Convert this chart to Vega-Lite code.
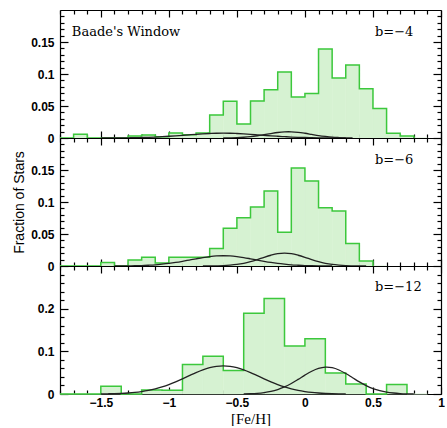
{
  "$schema": "https://vega.github.io/schema/vega-lite/v6.json",
  "background": "white",
  "padding": {"left": 12, "top": 9, "right": 0, "bottom": 0},
  "spacing": 0,
  "bounds": "flush",
  "config": {
    "view": {"stroke": null},
    "axis": {
      "grid": false, "domainColor": "black", "tickColor": "black", "labelColor": "black", "titleColor": "black",
      "domainWidth": 1.2, "tickWidth": 1.2, "zindex": 1,
      "labelFont": "Liberation Sans", "labelFontSize": 12, "labelFontWeight": "bold",
      "labelFlush": false, "labelOverlap": false, "labelBound": false
    },
    "text": {"font": "DejaVu Serif", "fontSize": 13}
  },
  "datasets": {
    "hist": [
      {"p":1,"lo":-1.8,"hi":-1.7,"f":0},{"p":1,"lo":-1.7,"hi":-1.6,"f":0.006},{"p":1,"lo":-1.6,"hi":-1.5,"f":0},{"p":1,"lo":-1.5,"hi":-1.4,"f":0},{"p":1,"lo":-1.4,"hi":-1.3,"f":0},
      {"p":1,"lo":-1.3,"hi":-1.2,"f":0.003},{"p":1,"lo":-1.2,"hi":-1.1,"f":0.0045},{"p":1,"lo":-1.1,"hi":-1.0,"f":0.002},{"p":1,"lo":-1.0,"hi":-0.9,"f":0.008},{"p":1,"lo":-0.9,"hi":-0.8,"f":0.005},
      {"p":1,"lo":-0.8,"hi":-0.7,"f":0.008},{"p":1,"lo":-0.7,"hi":-0.6,"f":0.036},{"p":1,"lo":-0.6,"hi":-0.5,"f":0.0575},{"p":1,"lo":-0.5,"hi":-0.4,"f":0.0218},{"p":1,"lo":-0.4,"hi":-0.3,"f":0.058},
      {"p":1,"lo":-0.3,"hi":-0.2,"f":0.0755},{"p":1,"lo":-0.2,"hi":-0.1,"f":0.103},{"p":1,"lo":-0.1,"hi":0.0,"f":0.064},{"p":1,"lo":0.0,"hi":0.1,"f":0.0697},{"p":1,"lo":0.1,"hi":0.2,"f":0.139},
      {"p":1,"lo":0.2,"hi":0.3,"f":0.0936},{"p":1,"lo":0.3,"hi":0.4,"f":0.114},{"p":1,"lo":0.4,"hi":0.5,"f":0.077},{"p":1,"lo":0.5,"hi":0.6,"f":0.046},{"p":1,"lo":0.6,"hi":0.7,"f":0.0074},
      {"p":1,"lo":0.7,"hi":0.8,"f":0.003},{"p":1,"lo":0.8,"hi":0.9,"f":0},
      {"p":2,"lo":-1.8,"hi":-1.7,"f":0},{"p":2,"lo":-1.7,"hi":-1.6,"f":0},{"p":2,"lo":-1.6,"hi":-1.5,"f":0},{"p":2,"lo":-1.5,"hi":-1.4,"f":0.0053},{"p":2,"lo":-1.4,"hi":-1.3,"f":0},
      {"p":2,"lo":-1.3,"hi":-1.2,"f":0.0093},{"p":2,"lo":-1.2,"hi":-1.1,"f":0.0137},{"p":2,"lo":-1.1,"hi":-1.0,"f":0.0048},{"p":2,"lo":-1.0,"hi":-0.9,"f":0.0137},{"p":2,"lo":-0.9,"hi":-0.8,"f":0.0137},
      {"p":2,"lo":-0.8,"hi":-0.7,"f":0.0137},{"p":2,"lo":-0.7,"hi":-0.6,"f":0.0272},{"p":2,"lo":-0.6,"hi":-0.5,"f":0.059},{"p":2,"lo":-0.5,"hi":-0.4,"f":0.0755},{"p":2,"lo":-0.4,"hi":-0.3,"f":0.092},
      {"p":2,"lo":-0.3,"hi":-0.2,"f":0.117},{"p":2,"lo":-0.2,"hi":-0.1,"f":0.0527},{"p":2,"lo":-0.1,"hi":0.0,"f":0.153},{"p":2,"lo":0.0,"hi":0.1,"f":0.133},{"p":2,"lo":0.1,"hi":0.2,"f":0.091},
      {"p":2,"lo":0.2,"hi":0.3,"f":0.0858},{"p":2,"lo":0.3,"hi":0.4,"f":0.035},{"p":2,"lo":0.4,"hi":0.5,"f":0.0078},{"p":2,"lo":0.5,"hi":0.6,"f":0},
      {"p":3,"lo":-1.8,"hi":-1.65,"f":0},{"p":3,"lo":-1.65,"hi":-1.5,"f":0},{"p":3,"lo":-1.5,"hi":-1.35,"f":0.018},{"p":3,"lo":-1.35,"hi":-1.2,"f":0},{"p":3,"lo":-1.2,"hi":-1.05,"f":0.0092},
      {"p":3,"lo":-1.05,"hi":-0.9,"f":0.009},{"p":3,"lo":-0.9,"hi":-0.75,"f":0.069},{"p":3,"lo":-0.75,"hi":-0.6,"f":0.0885},{"p":3,"lo":-0.6,"hi":-0.45,"f":0.055},{"p":3,"lo":-0.45,"hi":-0.3,"f":0.189},
      {"p":3,"lo":-0.3,"hi":-0.15,"f":0.224},{"p":3,"lo":-0.15,"hi":0.0,"f":0.1125},{"p":3,"lo":0.0,"hi":0.15,"f":0.1295},{"p":3,"lo":0.15,"hi":0.3,"f":0.0495},{"p":3,"lo":0.3,"hi":0.45,"f":0.0232},
      {"p":3,"lo":0.45,"hi":0.6,"f":0},{"p":3,"lo":0.6,"hi":0.75,"f":0.022},{"p":3,"lo":0.75,"hi":0.9,"f":0}
    ],
    "fits": [
      {"p":1,"c":1,"x":-1.5,"y":0.00004},{"p":1,"c":1,"x":-1.45,"y":0.0001},{"p":1,"c":1,"x":-1.4,"y":0.0001},{"p":1,"c":1,"x":-1.35,"y":0.0002},{"p":1,"c":1,"x":-1.3,"y":0.0003},{"p":1,"c":1,"x":-1.25,"y":0.0005},{"p":1,"c":1,"x":-1.2,"y":0.0008},{"p":1,"c":1,"x":-1.15,"y":0.0011},{"p":1,"c":1,"x":-1.1,"y":0.0015},{"p":1,"c":1,"x":-1.05,"y":0.0021},{"p":1,"c":1,"x":-1.0,"y":0.0027},{"p":1,"c":1,"x":-0.95,"y":0.0034},{"p":1,"c":1,"x":-0.9,"y":0.0042},{"p":1,"c":1,"x":-0.85,"y":0.005},{"p":1,"c":1,"x":-0.8,"y":0.0058},{"p":1,"c":1,"x":-0.75,"y":0.0065},{"p":1,"c":1,"x":-0.7,"y":0.007},{"p":1,"c":1,"x":-0.65,"y":0.0074},{"p":1,"c":1,"x":-0.6,"y":0.0075},{"p":1,"c":1,"x":-0.55,"y":0.0074},{"p":1,"c":1,"x":-0.5,"y":0.007},{"p":1,"c":1,"x":-0.45,"y":0.0065},{"p":1,"c":1,"x":-0.4,"y":0.0058},{"p":1,"c":1,"x":-0.35,"y":0.005},{"p":1,"c":1,"x":-0.3,"y":0.0042},{"p":1,"c":1,"x":-0.25,"y":0.0034},{"p":1,"c":1,"x":-0.2,"y":0.0027},{"p":1,"c":1,"x":-0.15,"y":0.0021},{"p":1,"c":1,"x":-0.1,"y":0.0015},{"p":1,"c":1,"x":-0.05,"y":0.0011},{"p":1,"c":1,"x":0.0,"y":0.0008},{"p":1,"c":1,"x":0.05,"y":0.0005},{"p":1,"c":1,"x":0.1,"y":0.0003},{"p":1,"c":1,"x":0.15,"y":0.0002},{"p":1,"c":1,"x":0.2,"y":0.0001},{"p":1,"c":1,"x":0.25,"y":0.0001},{"p":1,"c":1,"x":0.3,"y":0.00004},
      {"p":1,"c":2,"x":-0.6,"y":0.0001},{"p":1,"c":2,"x":-0.55,"y":0.0003},{"p":1,"c":2,"x":-0.5,"y":0.0006},{"p":1,"c":2,"x":-0.45,"y":0.0012},{"p":1,"c":2,"x":-0.4,"y":0.0021},{"p":1,"c":2,"x":-0.35,"y":0.0035},{"p":1,"c":2,"x":-0.3,"y":0.0052},{"p":1,"c":2,"x":-0.25,"y":0.007},{"p":1,"c":2,"x":-0.2,"y":0.0086},{"p":1,"c":2,"x":-0.15,"y":0.0096},{"p":1,"c":2,"x":-0.12,"y":0.0098},{"p":1,"c":2,"x":-0.1,"y":0.0097},{"p":1,"c":2,"x":-0.05,"y":0.0089},{"p":1,"c":2,"x":0.0,"y":0.0074},{"p":1,"c":2,"x":0.05,"y":0.0056},{"p":1,"c":2,"x":0.1,"y":0.0038},{"p":1,"c":2,"x":0.15,"y":0.0024},{"p":1,"c":2,"x":0.2,"y":0.0013},{"p":1,"c":2,"x":0.25,"y":0.0007},{"p":1,"c":2,"x":0.3,"y":0.0003},{"p":1,"c":2,"x":0.35,"y":0.0001},
      {"p":2,"c":1,"x":-1.4,"y":0.0001},{"p":2,"c":1,"x":-1.35,"y":0.0001},{"p":2,"c":1,"x":-1.3,"y":0.0002},{"p":2,"c":1,"x":-1.25,"y":0.0004},{"p":2,"c":1,"x":-1.2,"y":0.0007},{"p":2,"c":1,"x":-1.15,"y":0.0012},{"p":2,"c":1,"x":-1.1,"y":0.0018},{"p":2,"c":1,"x":-1.05,"y":0.0028},{"p":2,"c":1,"x":-1.0,"y":0.004},{"p":2,"c":1,"x":-0.95,"y":0.0055},{"p":2,"c":1,"x":-0.9,"y":0.0073},{"p":2,"c":1,"x":-0.85,"y":0.0093},{"p":2,"c":1,"x":-0.8,"y":0.0113},{"p":2,"c":1,"x":-0.75,"y":0.0132},{"p":2,"c":1,"x":-0.7,"y":0.0147},{"p":2,"c":1,"x":-0.65,"y":0.0157},{"p":2,"c":1,"x":-0.6,"y":0.016},{"p":2,"c":1,"x":-0.55,"y":0.0157},{"p":2,"c":1,"x":-0.5,"y":0.0147},{"p":2,"c":1,"x":-0.45,"y":0.0132},{"p":2,"c":1,"x":-0.4,"y":0.0113},{"p":2,"c":1,"x":-0.35,"y":0.0093},{"p":2,"c":1,"x":-0.3,"y":0.0073},{"p":2,"c":1,"x":-0.25,"y":0.0055},{"p":2,"c":1,"x":-0.2,"y":0.004},{"p":2,"c":1,"x":-0.15,"y":0.0028},{"p":2,"c":1,"x":-0.1,"y":0.0018},{"p":2,"c":1,"x":-0.05,"y":0.0012},{"p":2,"c":1,"x":0.0,"y":0.0007},{"p":2,"c":1,"x":0.05,"y":0.0004},{"p":2,"c":1,"x":0.1,"y":0.0002},{"p":2,"c":1,"x":0.15,"y":0.0001},{"p":2,"c":1,"x":0.2,"y":0.0001},
      {"p":2,"c":2,"x":-0.75,"y":0.00004},{"p":2,"c":2,"x":-0.7,"y":0.0001},{"p":2,"c":2,"x":-0.65,"y":0.0003},{"p":2,"c":2,"x":-0.6,"y":0.0006},{"p":2,"c":2,"x":-0.55,"y":0.0013},{"p":2,"c":2,"x":-0.5,"y":0.0024},{"p":2,"c":2,"x":-0.45,"y":0.0042},{"p":2,"c":2,"x":-0.4,"y":0.0068},{"p":2,"c":2,"x":-0.35,"y":0.01},{"p":2,"c":2,"x":-0.3,"y":0.0136},{"p":2,"c":2,"x":-0.25,"y":0.0168},{"p":2,"c":2,"x":-0.2,"y":0.0192},{"p":2,"c":2,"x":-0.15,"y":0.02},{"p":2,"c":2,"x":-0.1,"y":0.0192},{"p":2,"c":2,"x":-0.05,"y":0.0168},{"p":2,"c":2,"x":0.0,"y":0.0136},{"p":2,"c":2,"x":0.05,"y":0.01},{"p":2,"c":2,"x":0.1,"y":0.0068},{"p":2,"c":2,"x":0.15,"y":0.0042},{"p":2,"c":2,"x":0.2,"y":0.0024},{"p":2,"c":2,"x":0.25,"y":0.0013},{"p":2,"c":2,"x":0.3,"y":0.0006},{"p":2,"c":2,"x":0.35,"y":0.0003},{"p":2,"c":2,"x":0.4,"y":0.0001},{"p":2,"c":2,"x":0.45,"y":0.00004},
      {"p":3,"c":1,"x":-1.5,"y":0.0003},{"p":3,"c":1,"x":-1.45,"y":0.0005},{"p":3,"c":1,"x":-1.4,"y":0.0008},{"p":3,"c":1,"x":-1.35,"y":0.0014},{"p":3,"c":1,"x":-1.3,"y":0.0023},{"p":3,"c":1,"x":-1.25,"y":0.0036},{"p":3,"c":1,"x":-1.2,"y":0.0056},{"p":3,"c":1,"x":-1.15,"y":0.0083},{"p":3,"c":1,"x":-1.1,"y":0.0119},{"p":3,"c":1,"x":-1.05,"y":0.0165},{"p":3,"c":1,"x":-1.0,"y":0.022},{"p":3,"c":1,"x":-0.95,"y":0.0285},{"p":3,"c":1,"x":-0.9,"y":0.0356},{"p":3,"c":1,"x":-0.85,"y":0.043},{"p":3,"c":1,"x":-0.8,"y":0.0502},{"p":3,"c":1,"x":-0.75,"y":0.0566},{"p":3,"c":1,"x":-0.7,"y":0.0616},{"p":3,"c":1,"x":-0.65,"y":0.0649},{"p":3,"c":1,"x":-0.6,"y":0.066},{"p":3,"c":1,"x":-0.55,"y":0.0649},{"p":3,"c":1,"x":-0.5,"y":0.0616},{"p":3,"c":1,"x":-0.45,"y":0.0566},{"p":3,"c":1,"x":-0.4,"y":0.0502},{"p":3,"c":1,"x":-0.35,"y":0.043},{"p":3,"c":1,"x":-0.3,"y":0.0356},{"p":3,"c":1,"x":-0.25,"y":0.0285},{"p":3,"c":1,"x":-0.2,"y":0.022},{"p":3,"c":1,"x":-0.15,"y":0.0165},{"p":3,"c":1,"x":-0.1,"y":0.0119},{"p":3,"c":1,"x":-0.05,"y":0.0083},{"p":3,"c":1,"x":0.0,"y":0.0056},{"p":3,"c":1,"x":0.05,"y":0.0036},{"p":3,"c":1,"x":0.1,"y":0.0023},{"p":3,"c":1,"x":0.15,"y":0.0014},{"p":3,"c":1,"x":0.2,"y":0.0008},{"p":3,"c":1,"x":0.25,"y":0.0005},{"p":3,"c":1,"x":0.3,"y":0.0003},
      {"p":3,"c":2,"x":-0.45,"y":0.0004},{"p":3,"c":2,"x":-0.4,"y":0.0008},{"p":3,"c":2,"x":-0.35,"y":0.0017},{"p":3,"c":2,"x":-0.3,"y":0.0034},{"p":3,"c":2,"x":-0.25,"y":0.0061},{"p":3,"c":2,"x":-0.2,"y":0.0105},{"p":3,"c":2,"x":-0.15,"y":0.0166},{"p":3,"c":2,"x":-0.1,"y":0.0247},{"p":3,"c":2,"x":-0.05,"y":0.0342},{"p":3,"c":2,"x":0.0,"y":0.0442},{"p":3,"c":2,"x":0.05,"y":0.0533},{"p":3,"c":2,"x":0.1,"y":0.0599},{"p":3,"c":2,"x":0.15,"y":0.0629},{"p":3,"c":2,"x":0.16,"y":0.063},{"p":3,"c":2,"x":0.2,"y":0.0616},{"p":3,"c":2,"x":0.25,"y":0.0563},{"p":3,"c":2,"x":0.3,"y":0.048},{"p":3,"c":2,"x":0.35,"y":0.0382},{"p":3,"c":2,"x":0.4,"y":0.0284},{"p":3,"c":2,"x":0.45,"y":0.0197},{"p":3,"c":2,"x":0.5,"y":0.0127},{"p":3,"c":2,"x":0.55,"y":0.0077},{"p":3,"c":2,"x":0.6,"y":0.0043},{"p":3,"c":2,"x":0.65,"y":0.0023},{"p":3,"c":2,"x":0.7,"y":0.0011},{"p":3,"c":2,"x":0.75,"y":0.0005},{"p":3,"c":2,"x":0.8,"y":0.0002}
    ],
    "notes": [
      {"p":1,"x":-1.713,"y":0.166,"t":"Baade's Window"},
      {"p":1,"x":0.515,"y":0.166,"t":"b=−4"},
      {"p":2,"x":0.515,"y":0.166,"t":"b=−6"},
      {"p":3,"x":0.515,"y":0.25,"t":"b=−12"}
    ]
  },
  "vconcat": [
    {
      "width": 381, "height": 128,
      "resolve": {"axis": {"x": "independent", "y": "independent"}},
      "layer": [
        {
          "data": {"name": "hist"}, "transform": [{"filter": "datum.p == 1"}],
          "mark": {"type": "rect", "fill": "#d6f2d2", "stroke": "#d6f2d2", "strokeWidth": 0.5},
          "encoding": {
            "x": {"field": "lo", "type": "quantitative", "scale": {"domain": [-1.8, 1.0], "nice": false, "zero": false},
              "axis": {"orient": "bottom", "values": [-1.8,-1.7,-1.6,-1.5,-1.4,-1.3,-1.2,-1.1,-1,-0.9,-0.8,-0.7,-0.6,-0.5,-0.4,-0.3,-0.2,-0.1,0,0.1,0.2,0.3,0.4,0.5,0.6,0.7,0.8,0.9,1], "labels": false, "title": null,
                "tickSize": {"condition": {"test": "abs(datum.value*2 - round(datum.value*2)) < 0.001", "value": -7}, "value": -4}}},
            "x2": {"field": "hi"},
            "y": {"field": "f", "type": "quantitative", "scale": {"domain": [0, 0.2], "nice": false, "zero": false},
              "axis": {"orient": "left", "values": [0,0.01,0.02,0.03,0.04,0.05,0.06,0.07,0.08,0.09,0.1,0.11,0.12,0.13,0.14,0.15,0.16,0.17,0.18,0.19], "title": null, "labelPadding": 14,
                "labelExpr": "abs(datum.value*20 - round(datum.value*20)) < 0.001 ? format(datum.value, '~g') : ''",
                "tickSize": {"condition": {"test": "abs(datum.value*20 - round(datum.value*20)) < 0.001", "value": -8}, "value": -4}}},
            "y2": {"datum": 0}
          }
        },
        {
          "data": {"name": "hist"}, "transform": [{"filter": "datum.p == 1"}],
          "mark": {"type": "line", "interpolate": "step-after", "color": "#3cc83c", "strokeWidth": 1.5},
          "encoding": {
            "x": {"field": "lo", "type": "quantitative",
              "axis": {"orient": "top", "values": [-1.8,-1.7,-1.6,-1.5,-1.4,-1.3,-1.2,-1.1,-1,-0.9,-0.8,-0.7,-0.6,-0.5,-0.4,-0.3,-0.2,-0.1,0,0.1,0.2,0.3,0.4,0.5,0.6,0.7,0.8,0.9,1], "labels": false, "title": null,
                "tickSize": {"condition": {"test": "abs(datum.value*2 - round(datum.value*2)) < 0.001", "value": -7}, "value": -4}}},
            "y": {"field": "f", "type": "quantitative",
              "axis": {"orient": "right", "values": [0,0.01,0.02,0.03,0.04,0.05,0.06,0.07,0.08,0.09,0.1,0.11,0.12,0.13,0.14,0.15,0.16,0.17,0.18,0.19], "labels": false, "title": null,
                "tickSize": {"condition": {"test": "abs(datum.value*20 - round(datum.value*20)) < 0.001", "value": -8}, "value": -4}}}
          }
        },
        {
          "data": {"name": "fits"}, "transform": [{"filter": "datum.p == 1"}],
          "mark": {"type": "line", "interpolate": "monotone", "color": "#222222", "strokeWidth": 1.3},
          "encoding": {
            "x": {"field": "x", "type": "quantitative", "axis": null},
            "y": {"field": "y", "type": "quantitative", "axis": null},
            "detail": {"field": "c", "type": "nominal"}
          }
        },
        {
          "data": {"name": "notes"}, "transform": [{"filter": "datum.p == 1"}],
          "mark": {"type": "text", "align": "left", "baseline": "middle", "color": "black"},
          "encoding": {
            "x": {"field": "x", "type": "quantitative", "axis": null},
            "y": {"field": "y", "type": "quantitative", "axis": null},
            "text": {"field": "t"}
          }
        }
      ]
    },
    {
      "width": 381, "height": 128,
      "resolve": {"axis": {"x": "independent", "y": "independent"}},
      "layer": [
        {
          "data": {"name": "hist"}, "transform": [{"filter": "datum.p == 2"}],
          "mark": {"type": "rect", "fill": "#d6f2d2", "stroke": "#d6f2d2", "strokeWidth": 0.5},
          "encoding": {
            "x": {"field": "lo", "type": "quantitative", "scale": {"domain": [-1.8, 1.0], "nice": false, "zero": false},
              "axis": {"orient": "bottom", "values": [-1.8,-1.7,-1.6,-1.5,-1.4,-1.3,-1.2,-1.1,-1,-0.9,-0.8,-0.7,-0.6,-0.5,-0.4,-0.3,-0.2,-0.1,0,0.1,0.2,0.3,0.4,0.5,0.6,0.7,0.8,0.9,1], "labels": false, "title": null,
                "tickSize": {"condition": {"test": "abs(datum.value*2 - round(datum.value*2)) < 0.001", "value": -7}, "value": -4}}},
            "x2": {"field": "hi"},
            "y": {"field": "f", "type": "quantitative", "scale": {"domain": [0, 0.2], "nice": false, "zero": false},
              "axis": {"orient": "left", "values": [0,0.01,0.02,0.03,0.04,0.05,0.06,0.07,0.08,0.09,0.1,0.11,0.12,0.13,0.14,0.15,0.16,0.17,0.18,0.19], "labelPadding": 14,
                "title": "Fraction of Stars", "titleFont": "Liberation Sans", "titleFontSize": 14, "titleFontWeight": "normal", "titlePadding": 4,
                "labelExpr": "abs(datum.value*20 - round(datum.value*20)) < 0.001 ? format(datum.value, '~g') : ''",
                "tickSize": {"condition": {"test": "abs(datum.value*20 - round(datum.value*20)) < 0.001", "value": -8}, "value": -4}}},
            "y2": {"datum": 0}
          }
        },
        {
          "data": {"name": "hist"}, "transform": [{"filter": "datum.p == 2"}],
          "mark": {"type": "line", "interpolate": "step-after", "color": "#3cc83c", "strokeWidth": 1.5},
          "encoding": {
            "x": {"field": "lo", "type": "quantitative",
              "axis": {"orient": "top", "values": [-1.8,-1.7,-1.6,-1.5,-1.4,-1.3,-1.2,-1.1,-1,-0.9,-0.8,-0.7,-0.6,-0.5,-0.4,-0.3,-0.2,-0.1,0,0.1,0.2,0.3,0.4,0.5,0.6,0.7,0.8,0.9,1], "labels": false, "title": null,
                "tickSize": {"condition": {"test": "abs(datum.value*2 - round(datum.value*2)) < 0.001", "value": -7}, "value": -4}}},
            "y": {"field": "f", "type": "quantitative",
              "axis": {"orient": "right", "values": [0,0.01,0.02,0.03,0.04,0.05,0.06,0.07,0.08,0.09,0.1,0.11,0.12,0.13,0.14,0.15,0.16,0.17,0.18,0.19], "labels": false, "title": null,
                "tickSize": {"condition": {"test": "abs(datum.value*20 - round(datum.value*20)) < 0.001", "value": -8}, "value": -4}}}
          }
        },
        {
          "data": {"name": "fits"}, "transform": [{"filter": "datum.p == 2"}],
          "mark": {"type": "line", "interpolate": "monotone", "color": "#222222", "strokeWidth": 1.3},
          "encoding": {
            "x": {"field": "x", "type": "quantitative", "axis": null},
            "y": {"field": "y", "type": "quantitative", "axis": null},
            "detail": {"field": "c", "type": "nominal"}
          }
        },
        {
          "data": {"name": "notes"}, "transform": [{"filter": "datum.p == 2"}],
          "mark": {"type": "text", "align": "left", "baseline": "middle", "color": "black"},
          "encoding": {
            "x": {"field": "x", "type": "quantitative", "axis": null},
            "y": {"field": "y", "type": "quantitative", "axis": null},
            "text": {"field": "t"}
          }
        }
      ]
    },
    {
      "width": 381, "height": 128,
      "resolve": {"axis": {"x": "independent", "y": "independent"}},
      "layer": [
        {
          "data": {"name": "hist"}, "transform": [{"filter": "datum.p == 3"}],
          "mark": {"type": "rect", "fill": "#d6f2d2", "stroke": "#d6f2d2", "strokeWidth": 0.5},
          "encoding": {
            "x": {"field": "lo", "type": "quantitative", "scale": {"domain": [-1.8, 1.0], "nice": false, "zero": false},
              "axis": {"orient": "bottom", "values": [-1.8,-1.7,-1.6,-1.5,-1.4,-1.3,-1.2,-1.1,-1,-0.9,-0.8,-0.7,-0.6,-0.5,-0.4,-0.3,-0.2,-0.1,0,0.1,0.2,0.3,0.4,0.5,0.6,0.7,0.8,0.9,1], "labelPadding": 10,
                "labelExpr": "abs(datum.value*2 - round(datum.value*2)) < 0.001 ? format(datum.value, '~g') : ''",
                "title": "[Fe/H]", "titleFont": "Liberation Serif", "titleFontSize": 15, "titleFontWeight": "normal", "titlePadding": 0,
                "tickSize": {"condition": {"test": "abs(datum.value*2 - round(datum.value*2)) < 0.001", "value": -7}, "value": -4}}},
            "x2": {"field": "hi"},
            "y": {"field": "f", "type": "quantitative", "scale": {"domain": [0, 0.3], "nice": false, "zero": false},
              "axis": {"orient": "left", "values": [0,0.02,0.04,0.06,0.08,0.1,0.12,0.14,0.16,0.18,0.2,0.22,0.24,0.26,0.28], "title": null, "labelPadding": 14,
                "labelExpr": "abs(datum.value*10 - round(datum.value*10)) < 0.001 ? format(datum.value, '~g') : ''",
                "tickSize": {"condition": {"test": "abs(datum.value*10 - round(datum.value*10)) < 0.001", "value": -8}, "value": -4}}},
            "y2": {"datum": 0}
          }
        },
        {
          "data": {"name": "hist"}, "transform": [{"filter": "datum.p == 3"}],
          "mark": {"type": "line", "interpolate": "step-after", "color": "#3cc83c", "strokeWidth": 1.5},
          "encoding": {
            "x": {"field": "lo", "type": "quantitative",
              "axis": {"orient": "top", "values": [-1.8,-1.7,-1.6,-1.5,-1.4,-1.3,-1.2,-1.1,-1,-0.9,-0.8,-0.7,-0.6,-0.5,-0.4,-0.3,-0.2,-0.1,0,0.1,0.2,0.3,0.4,0.5,0.6,0.7,0.8,0.9,1], "labels": false, "title": null,
                "tickSize": {"condition": {"test": "abs(datum.value*2 - round(datum.value*2)) < 0.001", "value": -7}, "value": -4}}},
            "y": {"field": "f", "type": "quantitative",
              "axis": {"orient": "right", "values": [0,0.02,0.04,0.06,0.08,0.1,0.12,0.14,0.16,0.18,0.2,0.22,0.24,0.26,0.28], "labels": false, "title": null,
                "tickSize": {"condition": {"test": "abs(datum.value*10 - round(datum.value*10)) < 0.001", "value": -8}, "value": -4}}}
          }
        },
        {
          "data": {"name": "fits"}, "transform": [{"filter": "datum.p == 3"}],
          "mark": {"type": "line", "interpolate": "monotone", "color": "#222222", "strokeWidth": 1.3},
          "encoding": {
            "x": {"field": "x", "type": "quantitative", "axis": null},
            "y": {"field": "y", "type": "quantitative", "axis": null},
            "detail": {"field": "c", "type": "nominal"}
          }
        },
        {
          "data": {"name": "notes"}, "transform": [{"filter": "datum.p == 3"}],
          "mark": {"type": "text", "align": "left", "baseline": "middle", "color": "black"},
          "encoding": {
            "x": {"field": "x", "type": "quantitative", "axis": null},
            "y": {"field": "y", "type": "quantitative", "axis": null},
            "text": {"field": "t"}
          }
        }
      ]
    }
  ]
}
